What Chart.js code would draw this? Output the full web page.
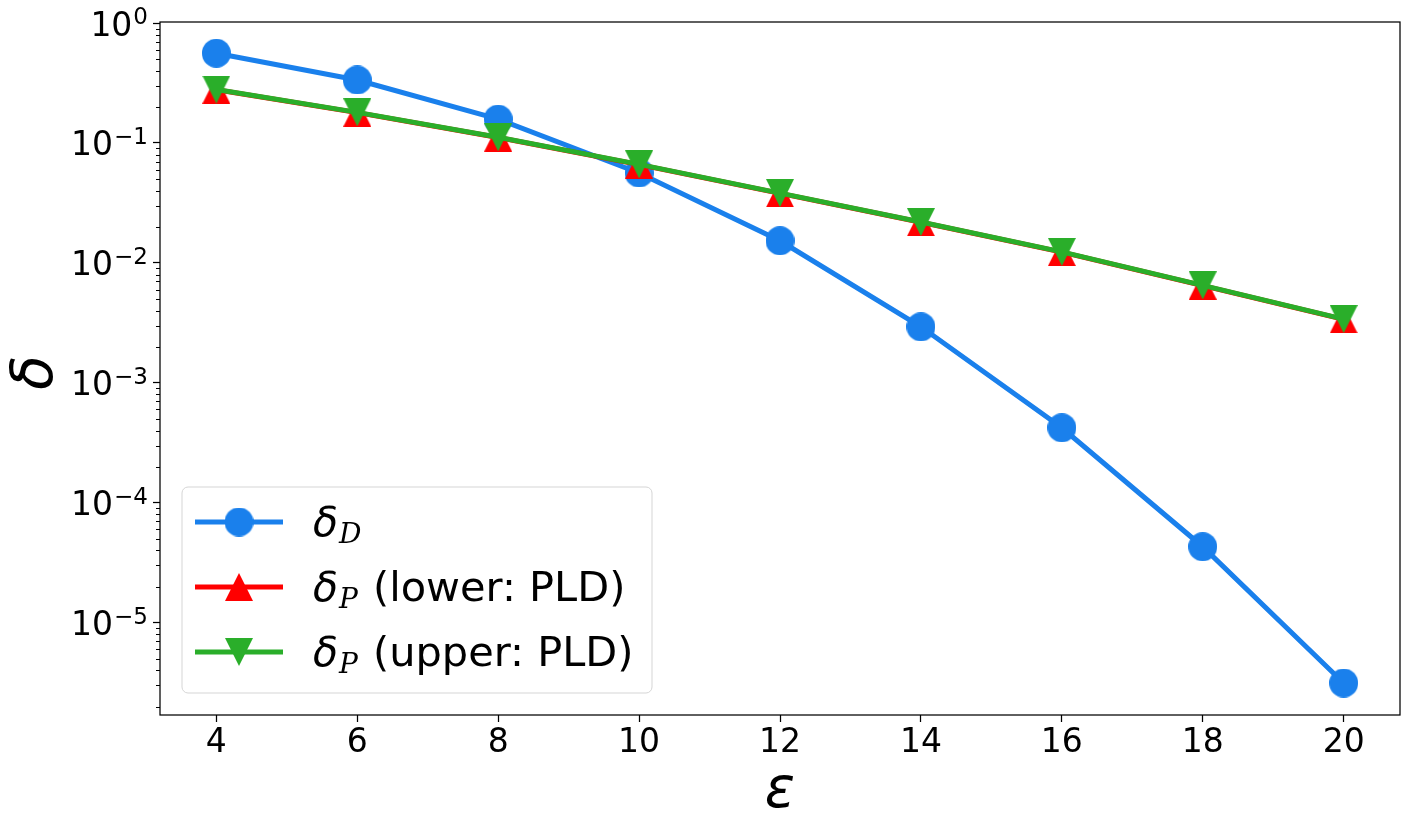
<!DOCTYPE html>
<html><head><meta charset="utf-8">
<script src="https://cdn.jsdelivr.net/npm/chart.js@4.4.1/dist/chart.umd.min.js"></script>
<style>html,body{margin:0;padding:0;background:#fff;overflow:hidden;}#wrap{width:1410px;height:828px;position:relative;}</style>
</head><body><div id="wrap"><canvas id="c"></canvas></div>
<script>
// ---- data ----
const epsilon = [4, 6, 8, 10, 12, 14, 16, 18, 20];
const deltaD = [0.56, 0.335, 0.158, 0.0562, 0.0153, 0.00293, 0.000422, 0.000043, 0.00000314];
const deltaPLower = [0.278, 0.179, 0.111, 0.066, 0.038, 0.0218, 0.0123, 0.00646, 0.00338];
const deltaPUpper = [0.279, 0.180, 0.1115, 0.0663, 0.0382, 0.0219, 0.01235, 0.0065, 0.0034];
const xTicks = [4, 6, 8, 10, 12, 14, 16, 18, 20];
const yTicks = [1e-5, 1e-4, 1e-3, 1e-2, 1e-1, 1];
const yTickBase = '10';
const yTickExponents = ['−5', '−4', '−3', '−2', '−1', '0'];
const seriesSymbol = ['δ', 'δ', 'δ'];
const seriesSub = ['D', 'P', 'P'];
const seriesRest = ['', '(lower: PLD)', '(upper: PLD)'];
const xAxisLabel = 'ε';
const yAxisLabel = 'δ';

// ---- styles ----
const BLUE = '#1a80ec', RED = '#ff0000', GREEN = '#2aae2a';
function markerImg(color, kind) {
  const s = kind === 'circle' ? 29 : 28, c = document.createElement('canvas');
  c.width = s; c.height = s;
  const g = c.getContext('2d');
  g.fillStyle = color; g.beginPath();
  if (kind === 'circle') { g.arc(s / 2, s / 2, s / 2, 0, Math.PI * 2); }
  else if (kind === 'up') { g.moveTo(s / 2, 0); g.lineTo(s, s); g.lineTo(0, s); }
  else { g.moveTo(0, 0); g.lineTo(s, 0); g.lineTo(s / 2, s); }
  g.closePath(); g.fill();
  return c;
}
const seriesColors = [BLUE, RED, GREEN];
const seriesPoint = [markerImg(BLUE, 'circle'), markerImg(RED, 'up'), markerImg(GREEN, 'down')];

const decor = {
  id: 'decor',
  afterDraw(chart) {
    const ctx = chart.ctx, a = chart.chartArea, ys = chart.scales.y;
    ctx.save();
    // minor log ticks
    ctx.strokeStyle = '#000'; ctx.lineWidth = 1;
    for (let k = -7; k <= 0; k++) {
      for (let m = 2; m <= 9; m++) {
        const v = m * Math.pow(10, k);
        if (v < ys.min || v > ys.max) continue;
        const py = Math.round(ys.getPixelForValue(v)) + 0.5;
        ctx.beginPath(); ctx.moveTo(a.left - 4, py); ctx.lineTo(a.left, py); ctx.stroke();
      }
    }
    // frame
    ctx.lineWidth = 1.25;
    ctx.strokeRect(a.left, a.top, a.right - a.left, a.bottom - a.top);
    // y tick labels with superscripts
    ctx.fillStyle = '#000'; ctx.textBaseline = 'alphabetic'; ctx.textAlign = 'right';
    yTicks.forEach((v, i) => {
      const py = ys.getPixelForValue(v);
      const rx = a.left - 12;
      ctx.font = '23px "DejaVu Sans"';
      const ew = ctx.measureText(yTickExponents[i]).width;
      ctx.fillText(yTickExponents[i], rx, py + 1);
      ctx.font = '33px "DejaVu Sans"';
      ctx.fillText(yTickBase, rx - ew - 1, py + 12.5);
    });
    // axis labels
    ctx.font = 'italic 56px "DejaVu Sans"'; ctx.textAlign = 'center';
    ctx.fillText(xAxisLabel, (a.left + a.right) / 2, 807);
    ctx.save(); ctx.translate(52, (a.top + a.bottom) / 2 + 4); ctx.rotate(-Math.PI / 2);
    ctx.fillText(yAxisLabel, 0, 0); ctx.restore();
    // legend
    ctx.beginPath(); ctx.roundRect(182, 487, 470, 206, 6);
    ctx.fillStyle = 'rgba(255,255,255,0.8)'; ctx.fill();
    ctx.strokeStyle = '#d5d5d5'; ctx.lineWidth = 1; ctx.stroke();
    for (let i = 0; i < 3; i++) {
      const y = 522 + 65 * i;
      ctx.strokeStyle = seriesColors[i]; ctx.lineWidth = 5;
      ctx.beginPath(); ctx.moveTo(195, y); ctx.lineTo(283, y); ctx.stroke();
      const im = seriesPoint[i];
      ctx.drawImage(im, 239 - im.width / 2, y - im.height / 2);
      ctx.fillStyle = '#000'; ctx.textAlign = 'left';
      ctx.font = 'italic 41px "DejaVu Sans"';
      ctx.fillText(seriesSymbol[i], 313, y + 14);
      const dw = ctx.measureText(seriesSymbol[i]).width;
      ctx.font = 'italic 28px "DejaVu Serif"';
      ctx.fillText(seriesSub[i], 313 + dw + 1, y + 21);
      ctx.font = '41.5px "DejaVu Sans"';
      ctx.fillText(seriesRest[i], 373, y + 14);
    }
    ctx.restore();
  }
};

const mk = (arr) => epsilon.map((x, i) => ({ x, y: arr[i] }));
new Chart(document.getElementById('c'), {
  type: 'line',
  data: {
    datasets: [
      { label: 'δD', data: mk(deltaD), borderColor: BLUE, backgroundColor: BLUE, borderWidth: 5, pointStyle: seriesPoint[0], pointRadius: 5, pointBorderWidth: 0, order: 3 },
      { label: 'δP (lower: PLD)', data: mk(deltaPLower), borderColor: RED, backgroundColor: RED, borderWidth: 5, pointStyle: seriesPoint[1], pointRadius: 5, pointBorderWidth: 0, order: 2 },
      { label: 'δP (upper: PLD)', data: mk(deltaPUpper), borderColor: GREEN, backgroundColor: GREEN, borderWidth: 5, pointStyle: seriesPoint[2], pointRadius: 5, pointBorderWidth: 0, order: 1 }
    ]
  },
  options: {
    responsive: true, maintainAspectRatio: false, animation: false, events: [],
    layout: { padding: { top: 22, right: 10, left: 0, bottom: 0 } },
    plugins: { legend: { display: false }, tooltip: { enabled: false } },
    scales: {
      x: {
        type: 'linear', min: 3.2, max: 20.8,
        afterBuildTicks: s => { s.ticks = xTicks.map(v => ({ value: v })); },
        afterFit: s => { s.height = 113; s.paddingLeft = 0; s.paddingRight = 0; },
        grid: { drawOnChartArea: false, drawTicks: true, tickLength: 7, tickColor: '#000', tickWidth: 1.25 },
        border: { display: false },
        ticks: { color: '#000', font: { family: 'DejaVu Sans', size: 33 }, padding: 2, maxRotation: 0, autoSkip: false }
      },
      y: {
        type: 'logarithmic', min: 1.7e-6, max: 1.02,
        afterBuildTicks: s => { s.ticks = yTicks.map(v => ({ value: v, major: true })); },
        afterFit: s => { s.width = 160; s.paddingTop = 0; s.paddingBottom = 0; },
        grid: { drawOnChartArea: false, drawTicks: true, tickLength: 7, tickColor: '#000', tickWidth: 1.25 },
        border: { display: false },
        ticks: { display: false }
      }
    }
  },
  plugins: [decor]
});
</script></body></html>
